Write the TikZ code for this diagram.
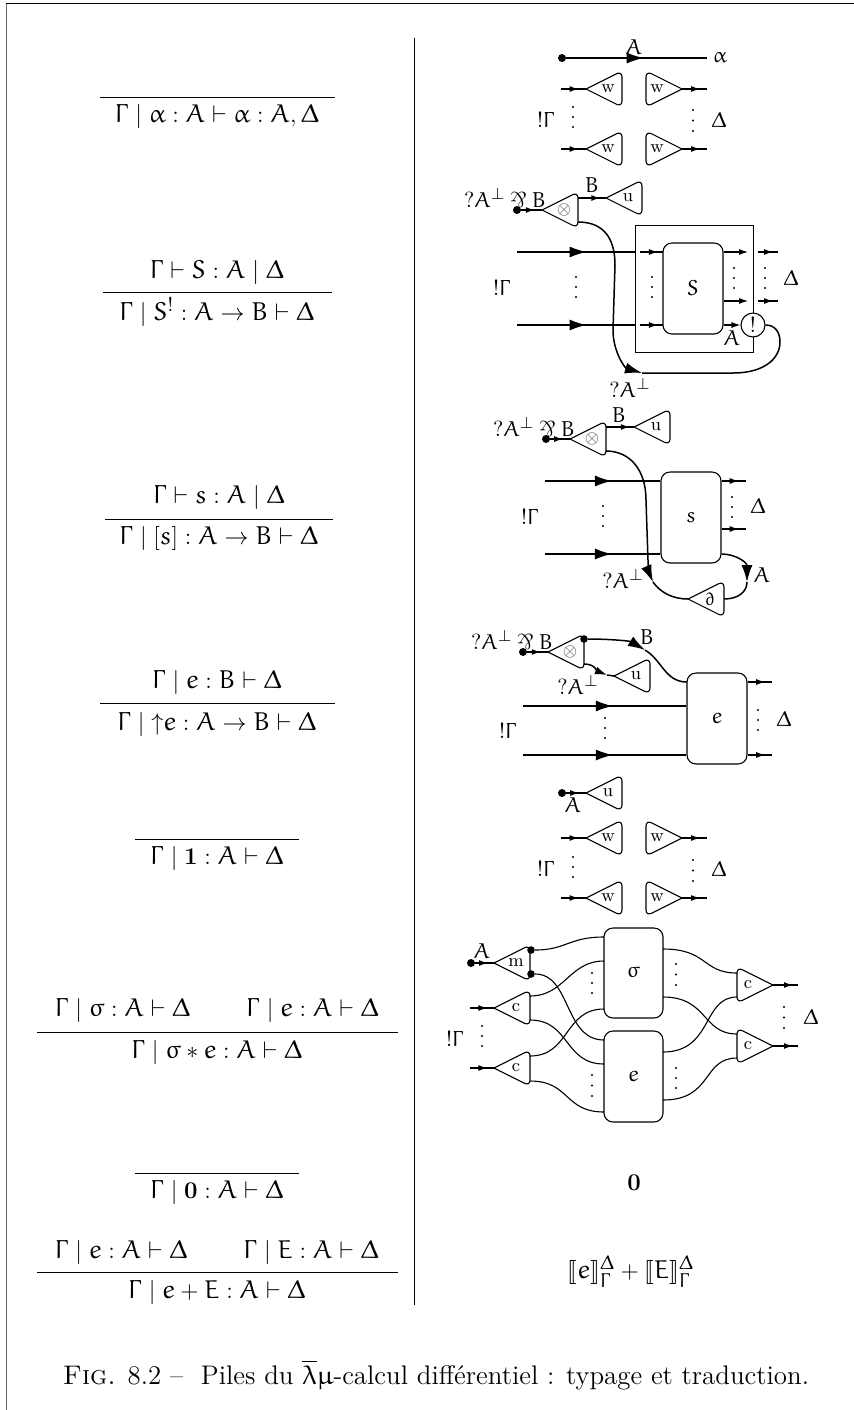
\documentclass[tikz,border=0pt]{standalone}
\usepackage{amsmath,amssymb}
\usepackage{stmaryrd}
\DeclareFontFamily{U}{zeur}{\skewchar\font'177}
\DeclareFontShape{U}{zeur}{m}{n}{<-> eurm10}{}
\DeclareSymbolFont{eulerletters}{U}{zeur}{m}{n}
\DeclareMathSizes{12.9}{12.9}{9.9}{7.5}
\DeclareMathSymbol{A}{\mathalpha}{eulerletters}{`A}
\DeclareMathSymbol{B}{\mathalpha}{eulerletters}{`B}
\DeclareMathSymbol{E}{\mathalpha}{eulerletters}{`E}
\DeclareMathSymbol{S}{\mathalpha}{eulerletters}{`S}
\DeclareMathSymbol{e}{\mathalpha}{eulerletters}{`e}
\DeclareMathSymbol{s}{\mathalpha}{eulerletters}{`s}
\DeclareMathSymbol{\Gamma}{\mathalpha}{eulerletters}{0}
\DeclareMathSymbol{\Delta}{\mathalpha}{eulerletters}{1}
\DeclareMathSymbol{\alpha}{\mathalpha}{eulerletters}{11}
\DeclareMathSymbol{\sigma}{\mathalpha}{eulerletters}{27}
\DeclareMathSymbol{\lambda}{\mathalpha}{eulerletters}{21}
\DeclareMathSymbol{\mu}{\mathalpha}{eulerletters}{22}
\DeclareMathSymbol{\partial}{\mathalpha}{eulerletters}{64}
\usetikzlibrary{calc,arrows.meta,decorations.markings}
\newcommand\myparr{\mathbin{\rotatebox[origin=c]{180}{\&}}}
\newcommand\trileft[4]{%
 \coordinate (#1-tip) at (#2,#3);
 \coordinate (#1-back) at ($(#1-tip)+(36,0)$);
 \draw[tri] (#1-tip) {[rounded corners=3pt] -- ++(36,-18) -- ++(0,36)} -- cycle;
 \node[trilab] (#1) at ($(#1-tip)+(22,0)$) {#4};
}
\newcommand\triright[4]{%
 \coordinate (#1-tip) at (#2,#3);
 \coordinate (#1-back) at ($(#1-tip)+(-36,0)$);
 \draw[tri] (#1-tip) {[rounded corners=3pt] -- ++(-36,-18) -- ++(0,36)} -- cycle;
 \node[trilab] (#1) at ($(#1-tip)+(-25,0)$) {#4};
}
\newcommand\vd[3]{\fill (#1,#2) circle (0.55pt) (#1,{#2+#3}) circle (0.55pt) (#1,{#2+2*#3}) circle (0.55pt);}
\newcommand\lab[4]{\node[dlab] (#1) at (#2,#3) {$#4$};}
\newcommand\seq[4]{\node[seqt] (#1) at (#2,#3) {$#4$};}
\newcommand\wire[5]{% name, x0, x1, y, pos : small-tip input wire into #2 -> #3
 \coordinate (#1-a) at (#2,#4); \coordinate (#1-b) at (#3,#4);
 \draw[wirel,smalltip=#5] (#1-a) -- (#1-b);}
\newcommand\bwire[5]{%
 \coordinate (#1-a) at (#2,#4); \coordinate (#1-b) at (#3,#4);
 \draw[wirek,bigtip=#5] (#1-a) -- (#1-b);}
\begin{document}
\begin{tikzpicture}[x=0.5pt,y=-0.5pt,
 tri/.style={line width=0.55pt,fill=white,line join=round},
 trilab/.style={inner sep=0pt,font=\fontsize{9}{10}\selectfont},
 dlab/.style={inner sep=0pt,font=\fontsize{10.8}{12}\selectfont},
 seqt/.style={inner sep=0pt,font=\fontsize{12.9}{15}\selectfont},
 wirel/.style={line width=0.55pt},
 wirek/.style={line width=0.75pt},
 dot/.style={circle,fill=black,inner sep=0pt,minimum size=4pt},
 smalltip/.style={decoration={markings,mark=at position #1 with {\arrow{Latex[length=4.5pt,width=3pt]}}},postaction={decorate}},
 bigtip/.style={decoration={markings,mark=at position #1 with {\arrow{Latex[length=8.5pt,width=5.5pt]}}},postaction={decorate}},
 sarrow/.style={-{Latex[length=4.5pt,width=3pt]}},
 barrow/.style={-{Latex[length=8.5pt,width=5.5pt]}},
 rbox/.style 2 args={draw,line width=0.55pt,rounded corners=4.5pt,minimum width=#1*0.5pt,minimum height=#2*0.5pt,inner sep=0pt,font=\fontsize{10.8}{12}\selectfont},
 infrule/.style={line width=0.5pt},
]
\useasboundingbox (0,0) rectangle (854,1410);
% frame and divider
\draw[line width=0.6pt] (6,3.5) -- (854,3.5);
\draw[line width=0.7pt,black!60] (6.5,3.5) -- (6.5,1410);
\draw[line width=0.5pt] (414,38) -- (414,1305);
% left column
\draw[infrule] (100,97) -- (335,97);
\seq{r1}{217}{116}{\Gamma\mid\alpha:A\vdash\alpha:A,\Delta}
\seq{r2n}{217}{272}{\Gamma\vdash S:A\mid\Delta}
\draw[infrule] (103,292) -- (332,292);
\seq{r2d}{217}{312}{\Gamma\mid S^{!}:A\to B\vdash\Delta}
\seq{r3n}{219}{497}{\Gamma\vdash s:A\mid\Delta}
\draw[infrule] (105,519) -- (333,519);
\seq{r3d}{219}{538}{\Gamma\mid[s]:A\to B\vdash\Delta}
\seq{r4n}{217}{682}{\Gamma\mid e:B\vdash\Delta}
\draw[infrule] (100,703) -- (335,703);
\seq{r4d}{217}{724}{\Gamma\mid{\uparrow}e:A\to B\vdash\Delta}
\draw[infrule] (135,839) -- (299,839);
\seq{r5}{217}{858}{\Gamma\mid\mathbf{1}:A\vdash\Delta}
\seq{r6n}{217}{1010}{\Gamma\mid\sigma:A\vdash\Delta\qquad\,\Gamma\mid e:A\vdash\Delta}
\draw[infrule] (37,1032) -- (398,1032);
\seq{r6d}{217}{1052}{\Gamma\mid\sigma*e:A\vdash\Delta}
\draw[infrule] (135,1173) -- (299,1173);
\seq{r7}{217}{1192}{\Gamma\mid\mathbf{0}:A\vdash\Delta}
\seq{r8n}{217}{1252}{\Gamma\mid e:A\vdash\Delta\qquad\,\Gamma\mid E:A\vdash\Delta}
\draw[infrule] (37,1272) -- (398,1272);
\seq{r8d}{217}{1292}{\Gamma\mid e+E:A\vdash\Delta}
% right bottom
\seq{zero}{634}{1183}{\mathbf{0}}
\seq{sum}{631}{1272}{\llbracket e\rrbracket_{\Gamma}^{\Delta}+\llbracket E\rrbracket_{\Gamma}^{\Delta}}
\node[inner sep=0pt,font=\fontsize{13.45}{15}\selectfont] (caption) at (436,1375) {\textsc{Fig.} 8.2 -- \ Piles du $\overline{\lambda}\mu$-calcul différentiel : typage et traduction.};

% ---------- diagram 1
\node[dot] (d1dot) at (562,58) {};
\coordinate (d1end) at (707,58);
\draw[wirek,bigtip=0.55] (d1dot) -- (d1end);
\lab{d1A}{634}{47}{A}
\lab{d1al}{720}{58}{\alpha}
\trileft{d1w1}{586}{89}{w}
\wire{d1i1}{561}{586}{89}{0.7}
\triright{d1w2}{682}{89}{w}
\wire{d1o1}{682}{707}{89}{0.72}
\trileft{d1w3}{586}{149}{w}
\wire{d1i2}{561}{586}{149}{0.7}
\triright{d1w4}{682}{149}{w}
\wire{d1o2}{682}{707}{149}{0.72}
\draw[wirek] (d1i1-a) -- (d1w1-tip) (d1i2-a) -- (d1w3-tip) (d1w2-tip) -- (d1o1-b) (d1w4-tip) -- (d1o2-b);
\vd{573}{107}{10}
\vd{693}{110}{10.5}
\lab{d1G}{546}{120}{!\Gamma}
\lab{d1D}{719}{120}{\Delta}

% ---------- diagram 2
\lab{d2t}{505}{198}{?A^{\perp}\myparr B}
\node[dot] (d2dot) at (517,210) {};
\trileft{d2x}{542}{210}{$\textcolor{black!70}{\otimes}$}
\draw[wirek,smalltip=0.65] (d2dot) -- (d2x-tip);
\trileft{d2u}{606}{198}{u}
\coordinate (d2xo) at ($(d2x-back)+(0,-12)$);
\draw[wirek,smalltip=0.8] (d2xo) -- (d2u-tip);
\lab{d2B}{592}{185}{B}
\node[draw,line width=0.45pt,minimum width=59pt,minimum height=63.5pt,inner sep=0pt] (d2box) at (694,288.5) {};
\node[rbox={60}{91}] (d2S) at (693,288.5) {$S$};
\bwire{d2a}{517}{635}{252}{0.59}
\bwire{d2b}{517}{635}{325}{0.59}
\wire{d2c}{640}{663}{252}{0.78}
\wire{d2d}{640}{663}{325}{0.78}
\coordinate (d2e) at (748,252);
\coordinate (d2f) at (748,301);
\coordinate (d2g) at (778,252);
\coordinate (d2h) at (778,301);
\coordinate (d2i) at (758,252);
\coordinate (d2j) at (758,301);
\draw[wirel,sarrow] (d2S.east |- d2e) -- (d2e);
\draw[wirel,sarrow] (d2S.east |- d2f) -- (d2f);
\draw[wirel,smalltip=0.75] (d2i) -- (d2g);
\draw[wirel,smalltip=0.75] (d2j) -- (d2h);
\node[draw,circle,fill=white,line width=0.55pt,minimum size=12pt,inner sep=0pt,font=\fontsize{10.8}{12}\selectfont] (d2bang) at (753,325) {$!$};
\draw[wirel,sarrow,shorten >=0pt] (d2S.east |- d2bang) -- (d2bang);
\lab{d2A2}{732}{338}{A}
\coordinate (d2xl) at ($(d2x-back)+(0,12)$);
\coordinate (d2arr) at (642,373);
\draw[wirek,barrow] (d2xl) .. controls (605,222) and (615,240) .. (615,265) -- (613,330) .. controls (613,352) and (625,368) .. (d2arr);
\draw[wirek] (d2arr) -- (733,373) .. controls (765,373) and (780,358) .. (780,342) .. controls (780,332) and (775,325) .. (d2bang.east);
\vd{576}{277}{10}
\vd{652}{277}{10}
\vd{734}{268}{10}
\vd{765}{268}{10}
\lab{d2G}{502}{288}{!\Gamma}
\lab{d2D}{791}{278}{\Delta}
\lab{d2Ap}{630}{388}{?A^{\perp}}

% ---------- diagram 3
\lab{d3t}{534}{427}{?A^{\perp}\myparr B}
\node[dot] (d3dot) at (546,439) {};
\trileft{d3x}{570}{439}{$\textcolor{black!70}{\otimes}$}
\draw[wirek,smalltip=0.65] (d3dot) -- (d3x-tip);
\trileft{d3u}{634}{427}{u}
\coordinate (d3xo) at ($(d3x-back)+(0,-12)$);
\draw[wirek,smalltip=0.85] (d3xo) -- (d3u-tip);
\lab{d3B}{619}{415}{B}
\node[rbox={60}{91}] (d3s) at (691,517.5) {$s$};
\coordinate (d3a) at (545,481);
\coordinate (d3b) at (545,554);
\draw[wirek,bigtip=0.58] (d3a) -- (d3s.west |- d3a);
\draw[wirek,bigtip=0.58] (d3b) -- (d3s.west |- d3b);
\coordinate (d3c) at (746,481);
\coordinate (d3d) at (746,529);
\draw[wirel,smalltip=0.7] (d3s.east |- d3c) -- (d3c);
\draw[wirel,smalltip=0.7] (d3s.east |- d3d) -- (d3d);
\trileft{d3p}{688}{599}{$\partial$}
\coordinate (d3xl) at ($(d3x-back)+(0,12)$);
\coordinate (d3ar1) at (653,582);
\coordinate (d3ar2) at (747,582);
\draw[wirek,barrow] (d3xl) .. controls (630,451) and (646,470) .. (646,500) -- (648,560) .. controls (648,568) and (650,575) .. (d3ar1);
\draw[wirek] (d3ar1) .. controls (660,592) and (672,599) .. (d3p-tip);
\draw[wirek,barrow] (d3s.east |- d3b) .. controls (735,554) and (747,562) .. (d3ar2);
\draw[wirek] (d3ar2) .. controls (747,592) and (738,599) .. (d3p-back);
\vd{603}{506}{10}
\vd{732}{497}{10}
\lab{d3G}{530}{517}{!\Gamma}
\lab{d3D}{758}{506}{\Delta}
\lab{d3Ap}{623}{579}{?A^{\perp}}
\lab{d3A}{762}{575}{A}

% ---------- diagram 4
\lab{d4t}{512}{640}{?A^{\perp}\myparr B}
\node[dot] (d4dot) at (523,652) {};
\trileft{d4x}{548}{652}{$\textcolor{black!70}{\otimes}$}
\draw[wirek,smalltip=0.65] (d4dot) -- (d4x-tip);
\trileft{d4u}{614}{676}{u}
\node[rbox={60}{91}] (d4e) at (717,718.5) {$e$};
\node[dot,minimum size=3.8pt] (d4up) at (584,639) {};
\coordinate (d4ar1) at (645,650);
\coordinate (d4in) at (687,682);
\draw[wirek,barrow] (d4up) .. controls (610,639) and (630,641) .. (d4ar1);
\draw[wirek] (d4ar1) .. controls (662,660) and (665,682) .. (d4in);
\coordinate (d4lo) at ($(d4x-back)+(0,12)$);
\coordinate (d4ar2) at (607,675);
\draw[wirek,-{Latex[length=6pt,width=4pt]}] (d4lo) .. controls (595,664) and (597,671) .. (d4ar2);
\draw[wirek] (d4ar2) -- (d4u-tip);
\lab{d4B}{647}{637}{B}
\lab{d4Ap}{578}{685}{?A^{\perp}}
\coordinate (d4a) at (523,706);
\coordinate (d4b) at (523,755);
\draw[wirek,bigtip=0.55] (d4a) -- (d4e.west |- d4a);
\draw[wirek,bigtip=0.55] (d4b) -- (d4e.west |- d4b);
\coordinate (d4c) at (772,682);
\coordinate (d4d) at (772,755);
\draw[wirel,smalltip=0.72] (d4e.east |- d4c) -- (d4c);
\draw[wirel,smalltip=0.72] (d4e.east |- d4d) -- (d4d);
\vd{605}{718}{10}
\vd{758}{710}{10}
\lab{d4G}{508}{731}{!\Gamma}
\lab{d4D}{784}{719}{\Delta}

% ---------- diagram 5
\node[dot] (d5dot) at (562,793) {};
\trileft{d5u}{586}{793}{u}
\draw[wirek,smalltip=0.65] (d5dot) -- (d5u-tip);
\lab{d5A}{573}{805}{A}
\trileft{d5w1}{586}{838}{w}
\wire{d5i1}{561}{586}{838}{0.7}
\triright{d5w2}{682}{838}{w}
\wire{d5o1}{682}{707}{838}{0.72}
\trileft{d5w3}{586}{898}{w}
\wire{d5i2}{561}{586}{898}{0.7}
\triright{d5w4}{682}{898}{w}
\wire{d5o2}{682}{707}{898}{0.72}
\draw[wirek] (d5i1-a) -- (d5w1-tip) (d5i2-a) -- (d5w3-tip) (d5w2-tip) -- (d5o1-b) (d5w4-tip) -- (d5o2-b);
\vd{573}{857}{10}
\vd{693}{860}{10.5}
\lab{d5G}{546}{869}{!\Gamma}
\lab{d5D}{719}{869}{\Delta}

% ---------- diagram 6
\lab{d6A}{482}{951}{A}
\node[dot] (d6dot) at (471,963) {};
\trileft{d6m}{494}{963}{m}
\draw[wirek,smalltip=0.68] (d6dot) -- (d6m-tip);
\trileft{d6c1}{494}{1008}{c}
\wire{d6i1}{470}{494}{1008}{0.72}
\trileft{d6c2}{494}{1068}{c}
\wire{d6i2}{470}{494}{1068}{0.72}
\draw[wirek] (d6i1-a) -- (d6c1-tip) (d6i2-a) -- (d6c2-tip);
\node[dot,minimum size=3.8pt] (d6m1) at (531,950) {};
\node[dot,minimum size=3.8pt] (d6m2) at (531,974) {};
\node[rbox={59}{90}] (d6s) at (633.5,973) {$\sigma$};
\node[rbox={59}{91}] (d6e) at (633.5,1076.5) {$e$};
\triright{d6c3}{773}{985}{c}
\triright{d6c4}{773}{1046}{c}
\coordinate (d6sa) at (604,937);
\coordinate (d6sb) at (604,961);
\coordinate (d6sc) at (604,1009);
\coordinate (d6ea) at (604,1040);
\coordinate (d6eb) at (604,1064);
\coordinate (d6ec) at (604,1112);
\coordinate (d6c1u) at ($(d6c1-back)+(0,-12)$);
\coordinate (d6c1l) at ($(d6c1-back)+(0,12)$);
\coordinate (d6c2u) at ($(d6c2-back)+(0,-12)$);
\coordinate (d6c2l) at ($(d6c2-back)+(0,13)$);
\draw[wirel] (d6m1) .. controls +(35,0) and +(-35,0) .. (d6sa);
\draw[wirel] (d6c1u) .. controls +(35,0) and +(-35,0) .. (d6sb);
\draw[wirel] (d6c2u) .. controls +(40,0) and +(-40,0) .. (d6sc);
\draw[wirel] (d6m2) .. controls +(40,0) and +(-40,0) .. (d6ea);
\draw[wirel] (d6c1l) .. controls +(40,0) and +(-40,0) .. (d6eb);
\draw[wirel] (d6c2l) .. controls +(40,0) and +(-40,0) .. (d6ec);
\coordinate (d6ra) at (663,949);
\coordinate (d6rb) at (663,997);
\coordinate (d6rc) at (663,1052);
\coordinate (d6rd) at (663,1100);
\coordinate (d6c3u) at ($(d6c3-back)+(0,-12)$);
\coordinate (d6c3l) at ($(d6c3-back)+(0,12)$);
\coordinate (d6c4u) at ($(d6c4-back)+(0,-12)$);
\coordinate (d6c4l) at ($(d6c4-back)+(0,12)$);
\draw[wirel] (d6ra) .. controls +(45,0) and +(-35,0) .. (d6c3u);
\draw[wirel] (d6rb) .. controls +(45,0) and +(-35,0) .. (d6c4u);
\draw[wirel] (d6rc) .. controls +(50,0) and +(-35,0) .. (d6c3l);
\draw[wirel] (d6rd) .. controls +(50,0) and +(-35,0) .. (d6c4l);
\coordinate (d6o1) at (798,985);
\coordinate (d6o2) at (798,1046);
\draw[wirek,smalltip=0.8] (d6c3-tip) -- (d6o1);
\draw[wirek,smalltip=0.8] (d6c4-tip) -- (d6o2);
\vd{482}{1026}{10}
\vd{592}{973}{10}
\vd{592}{1075}{10.5}
\vd{676}{964}{10.5}
\vd{676}{1068}{10}
\vd{784}{1007}{10.5}
\lab{d6G}{455}{1039}{!\Gamma}
\lab{d6D}{811}{1017}{\Delta}
\end{tikzpicture}
\end{document}
